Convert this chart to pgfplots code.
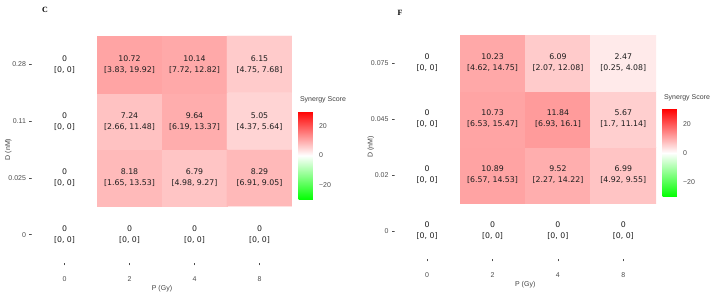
\documentclass[border=0pt]{standalone}
\usepackage{pgfplots}
\usepackage{pgfplotstable}
\usepackage{fontspec}
\pgfplotsset{compat=1.18}
\setmainfont{Liberation Sans}
\newfontfamily\cellfont{DejaVu Sans}
\newfontfamily\panelfont{Liberation Serif}

% Synergy scores: col = P (Gy) index, row = D (nM) index, z = score, lo/hi = interval
\pgfplotstableread{
col row z lo hi
0 0 0 0 0
1 0 0 0 0
2 0 0 0 0
3 0 0 0 0
0 1 0 0 0
1 1 8.18 1.65 13.53
2 1 6.79 4.98 9.27
3 1 8.29 6.91 9.05
0 2 0 0 0
1 2 7.24 2.66 11.48
2 2 9.64 6.19 13.37
3 2 5.05 4.37 5.64
0 3 0 0 0
1 3 10.72 3.83 19.92
2 3 10.14 7.72 12.82
3 3 6.15 4.75 7.68
}\dataC

\pgfplotstableread{
col row z lo hi
0 0 0 0 0
1 0 0 0 0
2 0 0 0 0
3 0 0 0 0
0 1 0 0 0
1 1 10.89 6.57 14.53
2 1 9.52 2.27 14.22
3 1 6.99 4.92 9.55
0 2 0 0 0
1 2 10.73 6.53 15.47
2 2 11.84 6.93 16.1
3 2 5.67 1.7 11.14
0 3 0 0 0
1 3 10.23 4.62 14.75
2 3 6.09 2.07 12.08
3 3 2.47 0.25 4.08
}\dataF

% cell text "score \\ [lo, hi]" built from the numeric columns
\pgfplotsset{
  /pgfplots/table/create col/celllabel/.style={
    create col/assign/.code={%
      \getthisrow{z}\zv
      \getthisrow{lo}\lov
      \getthisrow{hi}\hiv
      \edef\entry{\zv\noexpand\\{[}\lov, \hiv]}%
      \pgfkeyslet{/pgfplots/table/create col/next content}\entry
    }
  }
}
\pgfplotstablecreatecol[create col/celllabel]{label}\dataC
\pgfplotstablecreatecol[create col/celllabel]{label}\dataF

\definecolor{tickgray}{RGB}{77,77,77}
\definecolor{celltext}{RGB}{30,30,30}

\pgfplotsset{
  heat/.style={
    scale only axis,
    xmin=-0.5, xmax=3.5, ymin=-0.5, ymax=3.5,
    axis line style={draw=none},
    xtick={0,1,2,3}, xticklabels={0,2,4,8},
    ytick={0,1,2,3},
    xtick pos=bottom, ytick pos=left,
    tick align=outside, major tick length=2.5pt,
    tick style={tickgray, line width=0.5pt},
    ticklabel style={font=\fontsize{7}{8}\selectfont, text=tickgray},
    xticklabel style={yshift=-8pt},
    /pgf/number format/assume math mode=true,
    xlabel={P (Gy)}, ylabel={D (nM)},
    label style={font=\fontsize{7}{8}\selectfont, text=black!75},
    xlabel style={yshift=3pt},
    ylabel style={yshift=-10pt},
    colormap={synergy}{rgb255=(0,255,0) rgb255=(255,255,255) rgb255=(255,0,0)},
    point meta min=-30, point meta max=30,
    colorbar,
    colorbar style={
      scale only axis,
      width=17pt, height=89pt,
      anchor=south west,
      ytick={-20,0,20},
      yticklabels={−20,0,20},
      axis line style={draw=none},
      major tick length=0pt,
      yticklabel style={font=\fontsize{7}{8}\selectfont, text=tickgray, xshift=0pt},
      title={Synergy Score},
      title style={at={(0,1)}, anchor=south west, xshift=-2pt, yshift=-1pt,
        font=\fontsize{7}{8}\selectfont, text=black!75},
    },
  },
  celltexts/.style={
    only marks, mark=none,
    point meta=explicit symbolic,
    nodes near coords,
    every node near coord/.style={anchor=center, align=center,
      font=\cellfont\fontsize{7.8}{11}\selectfont, text=celltext},
  },
}

\begin{document}
\begin{tikzpicture}
\useasboundingbox (0pt,0pt) rectangle (713pt,299pt);

% Panel C
\begin{axis}[heat,
  at={(32pt,36pt)}, anchor=south west, width=260pt, height=227pt,
  yticklabels={0,0.025,0.11,0.28},
  colorbar style={at={(parent axis.south east)}, xshift=-2pt, yshift=63pt},
]
\addplot[matrix plot*, mesh/cols=4, point meta=explicit, shader=flat corner]
  table[x=col, y=row, meta=z] {\dataC};
\addplot[celltexts] table[x=col, y=row, meta=label] {\dataC};
\end{axis}
\node[font=\panelfont\bfseries\fontsize{8}{9}\selectfont, anchor=center] at (45pt,289pt) {C};

% Panel F
\begin{axis}[heat,
  at={(394.5pt,40pt)}, anchor=south west, width=261.5pt, height=224pt,
  yticklabels={0,0.02,0.045,0.075},
  colorbar style={at={(parent axis.south east)}, xshift=-2pt, yshift=62pt, height=88pt},
]
\addplot[matrix plot*, mesh/cols=4, point meta=explicit, shader=flat corner]
  table[x=col, y=row, meta=z] {\dataF};
\addplot[celltexts] table[x=col, y=row, meta=label] {\dataF};
\end{axis}
\node[font=\panelfont\bfseries\fontsize{8}{9}\selectfont, anchor=center] at (400pt,286pt) {F};
\end{tikzpicture}
\end{document}
